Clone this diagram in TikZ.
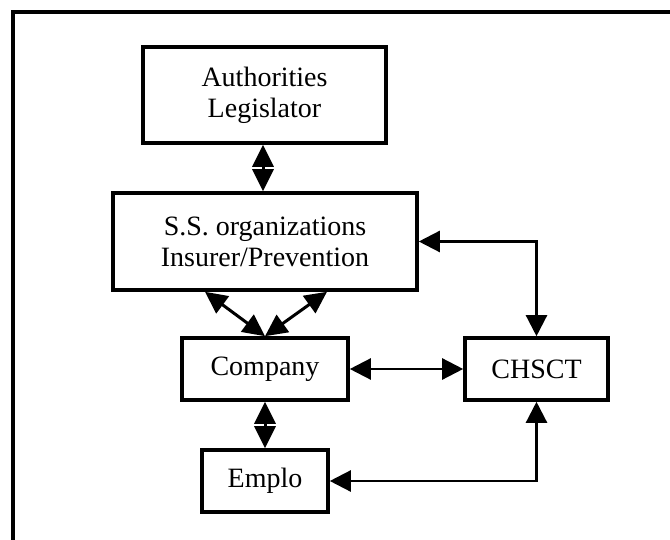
\documentclass[tikz,border=0pt]{standalone}
\usepackage{fontspec}
\setmainfont{Liberation Serif}
\usetikzlibrary{arrows.meta}
\begin{document}
\begin{tikzpicture}[x=1pt,y=-1pt,
  box/.style={draw,line width=3.6pt,inner sep=0pt,align=center,
    font=\fontsize{28}{31}\selectfont},
  link/.style={line width=3pt,{Triangle[length=22pt,width=21pt]}-{Triangle[length=22pt,width=21pt]}},
  thinlink/.style={line width=2.4pt,{Triangle[length=21pt,width=21pt]}-{Triangle[length=21pt,width=21pt]}}]
\useasboundingbox (0,0) rectangle (670,540);
\draw[line width=3.5pt] (13,540) -- (13,12) -- (670,12);
\node[box,minimum width=243pt,minimum height=96pt] (auth) at (264.5,95) {Authorities\\Legislator};
\node[box,minimum width=304pt,minimum height=97pt] (ss) at (265,241.5) {S.S. organizations\\Insurer/Prevention};
\node[box,minimum width=166pt,minimum height=62pt] (company) at (265,369) {Company};
\node[box,minimum width=143pt,minimum height=62pt] (chsct) at (536.5,369) {CHSCT};
\node[box,minimum width=126pt,minimum height=62pt] (emplo) at (265,481) {Emplo};
\draw[link] ([xshift=-1.5pt]auth.south) -- ([xshift=-2pt]ss.north);
\draw[link] ([xshift=-60pt]ss.south) -- (company.north);
\draw[link] ([xshift=62pt]ss.south) -- (company.north);
\draw[link] (company.south) -- (emplo.north);
\draw[thinlink] (company.east) -- (chsct.west);
\draw[thinlink] (ss.east) -| (chsct.north);
\draw[thinlink] (emplo.east) -| (chsct.south);
\end{tikzpicture}
\end{document}
